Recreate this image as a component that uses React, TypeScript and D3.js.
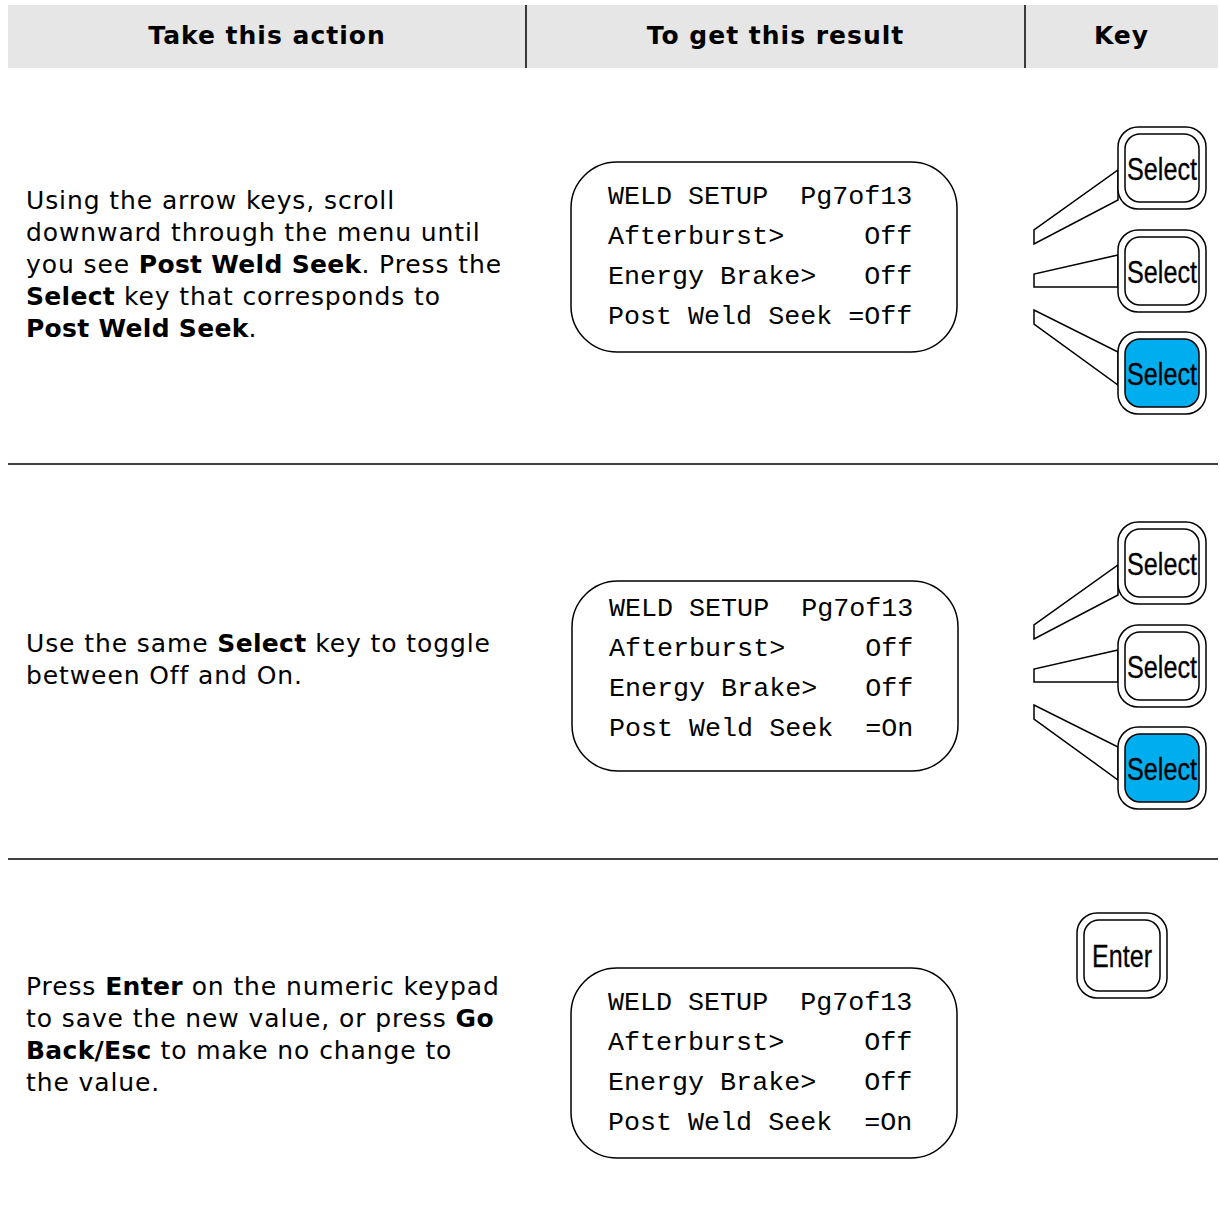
import React from "react";
import { range, scaleLinear } from "d3";

const W = 1220;
const H = 1209;

// header
const headers = ["Take this action", "To get this result", "Key"];
const colEdges = [8, 526, 1025, 1218];

// row separators
const rowRules = [464, 859];

// left column text, one entry per line, bold runs flagged
const actions = [
  [
    [["Using the arrow keys, scroll", 0]],
    [["downward through the menu until", 0]],
    [["you see ", 0], ["Post Weld Seek", 1], [". Press the", 0]],
    [["Select", 1], [" key that corresponds to", 0]],
    [["Post Weld Seek", 1], [".", 0]],
  ],
  [
    [["Use the same ", 0], ["Select", 1], [" key to toggle", 0]],
    [["between Off and On.", 0]],
  ],
  [
    [["Press ", 0], ["Enter", 1], [" on the numeric keypad", 0]],
    [["to save the new value, or press ", 0], ["Go", 1]],
    [["Back/Esc", 1], [" to make no change to", 0]],
    [["the value.", 0]],
  ],
];
const actionBaselines = [209, 652, 995];

// LCD screens
const lcdScreens = [
  ["WELD SETUP  Pg7of13", "Afterburst>     Off", "Energy Brake>   Off", "Post Weld Seek =Off"],
  ["WELD SETUP  Pg7of13", "Afterburst>     Off", "Energy Brake>   Off", "Post Weld Seek  =On"],
  ["WELD SETUP  Pg7of13", "Afterburst>     Off", "Energy Brake>   Off", "Post Weld Seek  =On"],
];
const lcdTops = [162, 581, 968];
const lcdLefts = [571, 572, 571];
const lcdTextTops = [42, 35, 42];

// select key groups: key tops, which one is lit
const keyGroupTops = [127, 522];
const keyOffsets = [0, 103, 205];
const litKey = 2;
// wedge attach points: [left top, left bottom, key top, key bottom] relative to group top
const wedges = [
  [103, 117, 43, 73],
  [147, 160, 128, 160],
  [183, 197, 225, 258],
];
const enterKeyTop = 913;

const body = "Verdana, 'DejaVu Sans', sans-serif";
const mono = "'Liberation Mono', 'Courier New', monospace";
const narrow = "'Liberation Sans Narrow', 'Arial Narrow', 'Liberation Sans', sans-serif";

const lineY = scaleLinear().domain([0, 1]).range([0, 32]);
const lcdLineY = scaleLinear().domain([0, 1]).range([0, 40]);

const Key = ({ x, y, w, h, label, lit, tl }) => (
  <g transform={`translate(${x},${y})`}>
    <rect x={0} y={0} width={w} height={h} rx={20} fill="#fff" stroke="#000" strokeWidth={1.5} />
    <rect x={7} y={7} width={w - 14} height={h - 14} rx={15} fill={lit ? "#00aeef" : "#fff"} stroke="#000" strokeWidth={1.5} />
    <text
      x={w / 2}
      y={h / 2 + 11.5}
      textAnchor="middle"
      fontFamily={narrow}
      fontSize={32}
      textLength={tl}
      lengthAdjust="spacingAndGlyphs"
      fill="#000"
      stroke="#000"
      strokeWidth={0.3}
    >
      {label}
    </text>
  </g>
);

export default function App() {
  return (
    <svg width={W} height={H} style={{ position: "absolute", left: 0, top: 0, background: "#fff" }}>
      <rect x={colEdges[0]} y={5} width={colEdges[3] - colEdges[0]} height={63} fill="#e6e6e6" />
      {[colEdges[1], colEdges[2]].map((x) => (
        <line key={x} x1={x} x2={x} y1={5} y2={68} stroke="#000" strokeWidth={1.5} />
      ))}
      {headers.map((h, i) => (
        <text
          key={h}
          x={(colEdges[i] + colEdges[i + 1]) / 2}
          y={44}
          textAnchor="middle"
          fontFamily={body}
          fontWeight="bold"
          fontSize={25}
          letterSpacing={1}
          fill="#000"
        >
          {h}
        </text>
      ))}

      {rowRules.map((y) => (
        <line key={y} x1={8} x2={1218} y1={y} y2={y} stroke="#000" strokeWidth={1.5} />
      ))}

      {actions.map((lines, s) =>
        lines.map((runs, li) => (
          <text
            key={`${s}-${li}`}
            x={26}
            y={actionBaselines[s] + lineY(li)}
            fontFamily={body}
            fontSize={25}
            letterSpacing={0.9}
            fill="#000"
            style={{ whiteSpace: "pre" }}
          >
            {runs.map(([t, b], k) => (
              <tspan key={k} fontWeight={b ? "bold" : "normal"} letterSpacing={b ? 0.3 : 0.9}>
                {t}
              </tspan>
            ))}
          </text>
        ))
      )}

      {lcdScreens.map((rows, s) => (
        <g key={s} transform={`translate(${lcdLefts[s]},${lcdTops[s]})`}>
          <rect x={0} y={0} width={386} height={190} rx={46} fill="#fff" stroke="#000" strokeWidth={1.5} />
          {rows.map((r, i) => (
            <text
              key={i}
              x={37}
              y={lcdTextTops[s] + lcdLineY(i)}
              fontFamily={mono}
              fontSize={26.7}
              fill="#000"
              xmlSpace="preserve"
              style={{ whiteSpace: "pre" }}
            >
              {r}
            </text>
          ))}
        </g>
      ))}

      {keyGroupTops.map((gy) => (
        <g key={gy} transform={`translate(0,${gy})`}>
          {wedges.map((w, i) => (
            <polygon
              key={i}
              points={`1034,${w[0]} 1034,${w[1]} 1118,${w[3]} 1118,${w[2]}`}
              fill="#fff"
              stroke="#000"
              strokeWidth={1.5}
            />
          ))}
          {range(keyOffsets.length).map((i) => (
            <Key key={i} x={1118} y={keyOffsets[i]} w={88} h={82} label="Select" lit={i === litKey} tl={70} />
          ))}
        </g>
      ))}

      <Key x={1077} y={enterKeyTop} w={90} h={85} label="Enter" lit={false} tl={60} />
    </svg>
  );
}
